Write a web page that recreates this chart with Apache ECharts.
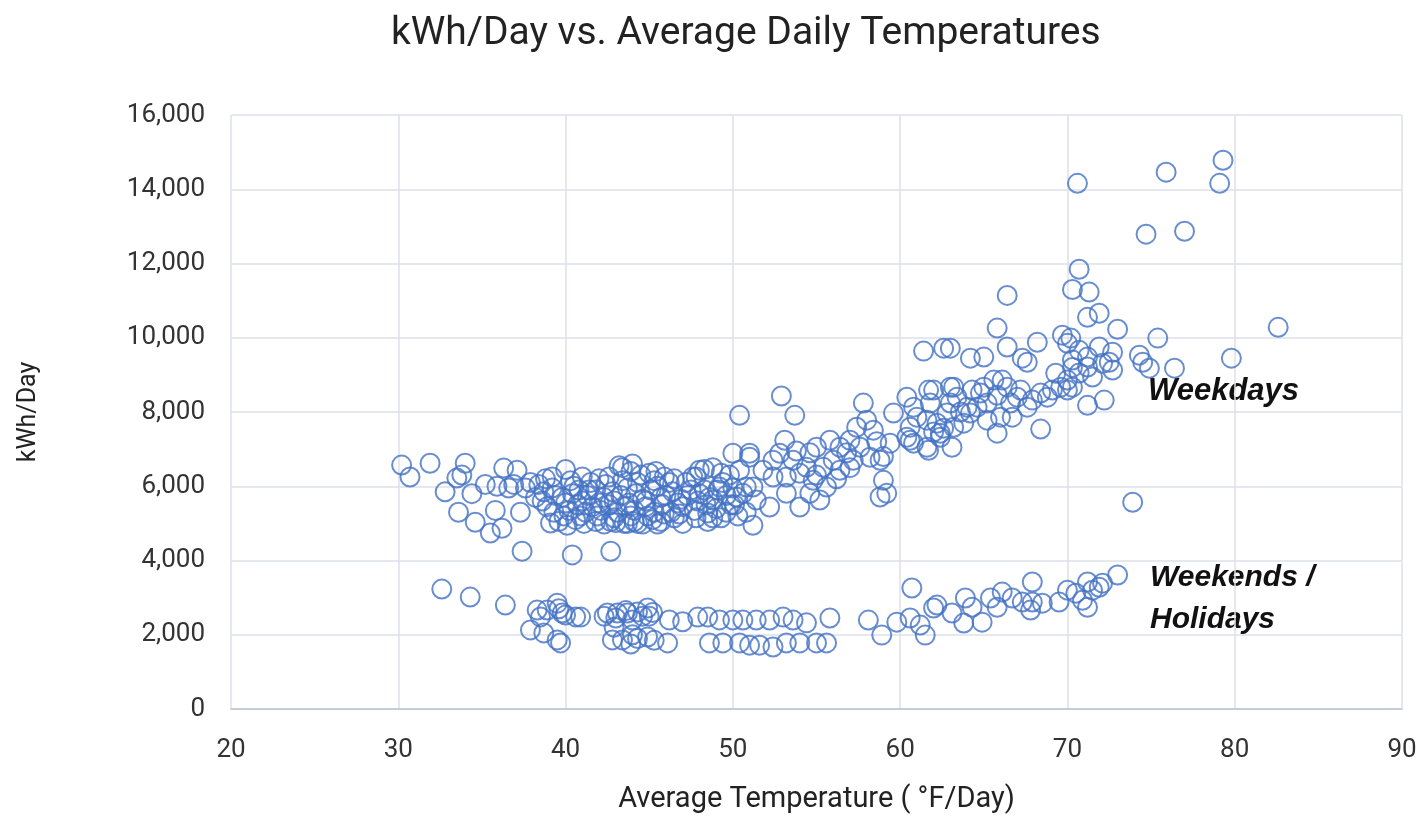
<!DOCTYPE html>
<html>
<head>
<meta charset="utf-8">
<script src="https://cdn.jsdelivr.net/npm/echarts@6/dist/echarts.min.js"></script>
<style>
html,body{margin:0;padding:0;background:#fff;}
#chart{width:1427px;height:820px;}
</style>
</head>
<body>
<div id="chart"></div>
<script>
// ---- Data (temperature °F/day, kWh/day) ----
const weekdays = [
  [30.2,6570],[30.7,6250],[31.9,6620],[32.8,5850],[33.5,6220],[33.8,6300],[34.0,6620],[33.6,5300],[34.4,5800],[34.6,5030],
  [35.2,6050],[35.5,4740],[35.8,5350],[36.2,4870],[35.9,6000],[36.3,6490],[36.6,5950],[37.1,6430],[36.9,6050],[37.3,5300],
  [37.4,4250],[37.6,5950],[37.9,6100],[40.4,4150],[42.7,4250],
  [38.4,6050],[38.8,6200],[39.2,6250],[40.0,6450],[40.3,6150],[41.0,6250],[41.5,6100],[42.0,6200],[42.6,6250],[43.2,6550],
  [43.4,6500],[43.9,6400],[44.5,6300],[45.0,6350],[45.4,6400],[45.9,6250],[46.5,6200],[47.2,6100],[47.8,6250],[48.3,6450],
  [48.8,6500],[49.3,6350],[49.8,6300],
  [38.2,5700],[38.7,5850],[39.2,5950],[39.8,5700],[40.4,5800],[40.8,5900],[41.3,5750],[41.8,5900],[42.3,5700],[42.8,5850],
  [43.3,5750],[43.7,5950],[44.2,5800],[44.6,5650],[45.1,5900],[45.5,6000],[46.0,5750],[46.4,5850],[46.9,5650],[47.5,5900],
  [48.0,5800],[48.6,5700],[49.1,5900],[49.6,5750],[50.0,5950],
  [38.9,5450],[39.3,5300],[40.2,5350],[40.7,5500],[41.2,5300],[41.6,5450],[42.1,5350],[42.6,5500],[43.1,5300],[43.6,5450],
  [44.1,5350],[44.8,5450],[45.3,5300],[45.8,5500],[46.3,5300],[47.0,5450],[47.7,5350],[48.4,5500],[49.0,5400],[49.6,5300],
  [39.1,5010],[39.6,5050],[40.1,4950],[40.6,5100],[41.1,5000],[41.8,5050],[42.3,4980],[43.0,5020],[43.5,5000],[44.1,5050],
  [44.6,4980],[45.2,5100],[45.7,5050],[46.5,5150],[47.0,5000],[48.5,5050],[48.8,5150],[50.3,5200],[50.8,5300],[51.2,4950],
  [38.6,5600],[39.4,5750],[40.0,5550],[40.5,6000],[41.0,5600],[41.4,5900],[42.0,5550],[42.4,6050],[42.9,5600],[43.4,6150],
  [43.8,5550],[44.3,6100],[44.8,5600],[45.3,6150],[45.7,5700],[46.2,6100],[46.7,5550],[47.3,5750],[47.9,5600],[48.3,5900],
  [49.4,6100],[49.9,5500],[39.9,5200],[40.9,5200],[41.9,5200],[42.9,5150],[43.9,5200],[44.9,5200],[45.9,5250],[46.8,5250],
  [47.8,5150],[49.3,5150],[50.1,5500],[44.0,6600],[44.3,5000],[45.5,4980],[43.7,5000],[42.7,5050],
  [56.8,6900],[57.2,6700],[58.6,7200],[57.0,6500],[56.2,6200],[55.0,6300],[53.8,6950],[54.6,6900],[59.0,6800],
  [50.4,6430],[51.2,5980],[50.6,5810],[51.4,5630],[52.2,5440],[53.2,5810],[54.0,5440],[52.4,6700],[52.8,6890],[53.6,6700],
  [54.4,6510],[55.0,7050],[55.8,7240],[56.4,7050],[57.0,7240],[57.4,7590],[58.0,7780],[58.4,7510],[57.6,7050],[58.2,6780],
  [58.8,6700],[59.0,6160],[58.8,5710],[59.2,5810],[59.4,7160],[59.6,7970],[60.4,8400],[60.8,8130],[61.7,8590],[63.0,8670],
  [61.6,7050],[60.6,7240],[62.4,7430],[55.4,6510],[54.8,6160],[55.6,5980],[56.4,6430],[56.0,6700],[54.0,6350],[54.6,5810],
  [55.2,5630],[53.2,6250],[52.4,6250],[51.8,6430],[52.9,8430],[53.7,7910],[50.4,7910],[57.8,8240],[53.1,7240],[51.0,6780],
  [49.2,5980],[48.8,5630],[48.5,5280],[48.0,6430],[47.6,6250],[50.0,6890],[51.0,6890],[50.8,5980],[50.2,5710],
  [66.4,11140],[70.3,11300],[71.3,11230],[71.2,10550],[71.9,10660],[73.0,10230],[65.8,10260],[61.4,9640],[62.6,9720],[63.0,9720],
  [64.2,9450],[65.0,9480],[66.4,9750],[68.2,9880],[67.6,9340],[67.3,9450],[69.7,10070],[70.2,9990],[70.0,9850],[70.7,9660],
  [71.9,9750],[72.5,9340],[72.7,9130],[71.2,9480],[71.2,9210],[70.3,9400],[70.7,9050],[71.5,8940],[70.0,8860],[69.6,8670],
  [69.1,8590],[68.8,8400],[70.0,8590],[70.3,8670],[71.2,8180],[72.2,8320],[68.4,8510],[67.9,8320],[67.2,8590],[67.0,8400],
  [67.6,8130],[66.6,8240],[66.1,8860],[65.6,8860],[66.4,8670],[65.0,8670],[64.8,8510],[64.3,8590],[65.8,8450],[65.2,8240],
  [64.6,8130],[63.2,8670],[63.4,8400],[63.0,8240],[63.6,8000],[62.8,7970],[62.0,8590],[61.8,8240],[61.0,7860],[61.6,7780],
  [62.2,7700],[62.6,7560],[63.2,7590],[63.8,7700],[64.0,8130],[64.2,7970],[62.0,7460],[62.4,7320],[60.6,7590],[60.4,7320],
  [60.8,7160],[61.7,6970],[63.1,7050],[65.2,7780],[66.0,7860],[66.7,7860],[65.8,7430],[68.4,7540],[72.1,9310],[72.7,9610],
  [73.9,5570],[70.6,14160],[75.9,14460],[79.3,14780],[79.1,14160],[74.7,12790],[77.0,12870],[70.7,11845],[75.4,9990],[82.6,10280],
  [74.3,9530],[74.5,9340],[74.9,9180],[76.4,9180],[79.8,9450],[69.3,9045],[70.3,9200]
];
const weekends = [
  [32.6,3230],[34.3,3015],[36.4,2800],[38.3,2665],[38.5,2480],[37.9,2130],[38.7,2050],[39.6,2700],[40.0,2530],[39.7,1780],
  [39.5,1860],[40.6,2480],[38.9,2665],[39.5,2850],[39.8,2585],[40.9,2475],[42.5,2585],[43.1,2585],[43.7,2585],[44.3,2610],
  [44.9,2720],[42.8,1860],[43.4,1860],[44.3,1900],[44.9,1940],[46.2,2400],[46.1,1780],[47.0,2350],[47.9,2475],[48.5,2475],
  [49.2,2400],[50.0,2400],[50.6,2395],[51.4,2395],[52.2,2395],[53.0,2475],[53.6,2395],[54.4,2320],[48.6,1780],[49.4,1780],
  [50.4,1780],[51.0,1720],[51.6,1720],[52.4,1670],[53.2,1780],[54.0,1780],[55.0,1780],
  [42.3,2500],[43.0,2450],[44.0,2400],[45.0,2500],[45.2,2600],[43.6,2650],[44.6,2500],[42.9,2200],[44.0,2000],[45.3,1850],[43.9,1750],
  [55.8,2450],[55.6,1780],[58.1,2395],[58.9,1990],[59.8,2340],[60.7,3260],[60.6,2450],[61.2,2260],[61.5,1990],[62.0,2720],
  [62.2,2800],[63.1,2585],[63.8,2315],[63.9,2990],[64.3,2740],[64.9,2340],[65.4,2990],[65.8,2740],[66.1,3150],[66.7,2990],
  [67.3,2880],[67.8,2665],[67.9,3420],[67.9,2880],[68.5,2850],[69.5,2880],[70.0,3200],[70.5,3120],[70.9,2930],[71.2,2740],
  [71.2,3420],[71.5,3200],[71.9,3280],[72.1,3390],[73.0,3610]
];
const xTicks = { min: 20, max: 90, step: 10 };
const yTicks = { min: 0, max: 16000, step: 2000 };
const titleText = 'kWh/Day vs. Average Daily Temperatures';
const xName = 'Average Temperature ( °F/Day)';
const yName = 'kWh/Day';
const labelWeekdays = 'Weekdays';
const labelWeekends = ['Weekends /', 'Holidays'];

const FONT = '"Roboto", "Liberation Sans", sans-serif';
const BLUE = '#4472C4';
const chart = echarts.init(document.getElementById('chart'), null, {renderer: 'canvas'});
const marker = {
  type: 'scatter', symbol: 'circle', symbolSize: 19,
  itemStyle: { color: 'rgba(0,0,0,0)', borderColor: BLUE, borderWidth: 2 },
  emphasis: { disabled: true }
};
chart.setOption({
  animation: false,
  backgroundColor: '#fff',
  title: {
    text: titleText, left: 386, top: 10,
    textStyle: { fontFamily: FONT, fontSize: 39, fontWeight: 'normal', color: '#222' }
  },
  grid: { left: 231, right: 25, top: 115, bottom: 111, containLabel: false, outerBoundsMode: 'none' },
  xAxis: {
    type: 'value', min: xTicks.min, max: xTicks.max, interval: xTicks.step,
    name: xName, nameLocation: 'middle', nameGap: 76,
    nameTextStyle: { fontFamily: FONT, fontSize: 29, color: '#222' },
    axisLine: { show: true, lineStyle: { color: '#bcc3d3', width: 1.5 } },
    axisTick: { show: false },
    axisLabel: { fontFamily: FONT, fontSize: 26, color: '#333', margin: 28 },
    splitLine: { show: true, lineStyle: { color: '#dde1ea', width: 1.5 } }
  },
  yAxis: {
    type: 'value', min: yTicks.min, max: yTicks.max, interval: yTicks.step,
    name: yName, nameLocation: 'middle', nameGap: 190, nameRotate: 90,
    nameTextStyle: { fontFamily: FONT, fontSize: 25, color: '#222' },
    axisLine: { show: false },
    axisTick: { show: false },
    axisLabel: { fontFamily: FONT, fontSize: 26, color: '#333', margin: 26,
      formatter: v => v.toLocaleString('en-US') },
    splitLine: { show: true, lineStyle: { color: '#dde1ea', width: 1.5 } }
  },
  graphic: [
    { type: 'text', left: 1148, top: 376,
      style: { text: labelWeekdays, font: 'italic bold 31px "Liberation Sans", sans-serif', fill: '#111' } },
    { type: 'text', left: 1150, top: 557,
      style: { text: labelWeekends.join('\n'), font: 'italic bold 30px "Liberation Sans", sans-serif', fill: '#111', lineHeight: 42 } }
  ],
  series: [
    Object.assign({ name: 'Weekdays', data: weekdays }, marker),
    Object.assign({ name: 'Weekends / Holidays', data: weekends }, marker)
  ]
});
</script>
</body>
</html>
